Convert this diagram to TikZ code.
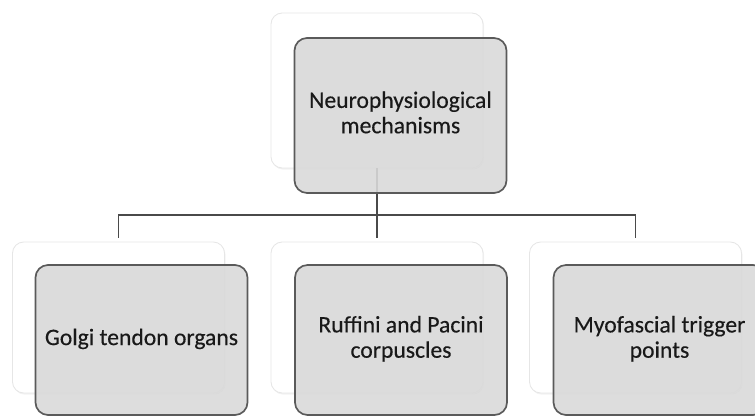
\documentclass[tikz,border=0pt]{standalone}
\usepackage{fontspec}
\setmainfont{Carlito}
\newfontfamily\topicfont{Carlito}[FakeBold=0.35]
\usepackage{tikz}
\usetikzlibrary{positioning,calc,shadows}
\definecolor{cardEdge}{HTML}{E6E6E6}
\definecolor{boxFill}{HTML}{D9D9D9}
\definecolor{boxEdge}{HTML}{5A5A5A}
\definecolor{linkGrey}{HTML}{4A4A4A}
\newcommand{\topictext}[1]{\raisebox{-6.5pt}{\begin{tabular}{@{}c@{}}#1\end{tabular}}}

\begin{document}
\begin{tikzpicture}[x=0.025cm,y=-0.025cm,
  font=\topicfont\fontsize{16.8}{18}\selectfont,
  card/.style={draw=cardEdge,line width=0.6pt,fill=white,rounded corners=8pt,
    minimum width=5.3cm,inner sep=0pt,outer sep=0pt,
    drop shadow={opacity=0.10,shadow xshift=0.8pt,shadow yshift=-1.2pt}},
  topic/.style={draw=boxEdge,line width=1.2pt,fill=boxFill,fill opacity=0.9,
    text opacity=1,text=black!90,rounded corners=9pt,minimum width=5.3cm,
    inner sep=0pt,outer sep=0pt},
  link/.style={draw=linkGrey,line width=1pt}]
\useasboundingbox (0,0) rectangle (755,419);

% back cards
\node[card,minimum height=3.875cm] (topbg) at (377,90.5) {};
\node[card,minimum height=3.775cm] (golgibg) at (118.5,317.5) {};
\node[card,minimum height=3.775cm] (ruffbg) at (377,317.5) {};
\node[card,minimum height=3.775cm] (mfbg) at (635.5,317.5) {};

% connectors
\coordinate (bus) at (377,215);
\draw[link] (topbg.south) -- (topbg.south |- bus);
\draw[link] ([yshift=3pt]golgibg.north) -- (golgibg.north |- bus)
  -- (mfbg.north |- bus) -- ([yshift=3pt]mfbg.north);
\draw[link] ([yshift=3pt]ruffbg.north) -- (ruffbg.north |- bus);

% front boxes
\node[topic,minimum height=3.875cm] (neuro) at (400.5,115.5)
  {\topictext{Neurophysiological\\mechanisms}};
\node[topic,minimum height=3.75cm] (golgi) at (141.5,340)
  {\topictext{Golgi tendon organs}};
\node[topic,minimum height=3.75cm] (ruff) at (401,340)
  {\topictext{Ruffini and Pacini\\corpuscles}};
\node[topic,minimum height=3.75cm] (mf) at (659.5,340)
  {\topictext{Myofascial trigger\\points}};
\end{tikzpicture}
\end{document}
